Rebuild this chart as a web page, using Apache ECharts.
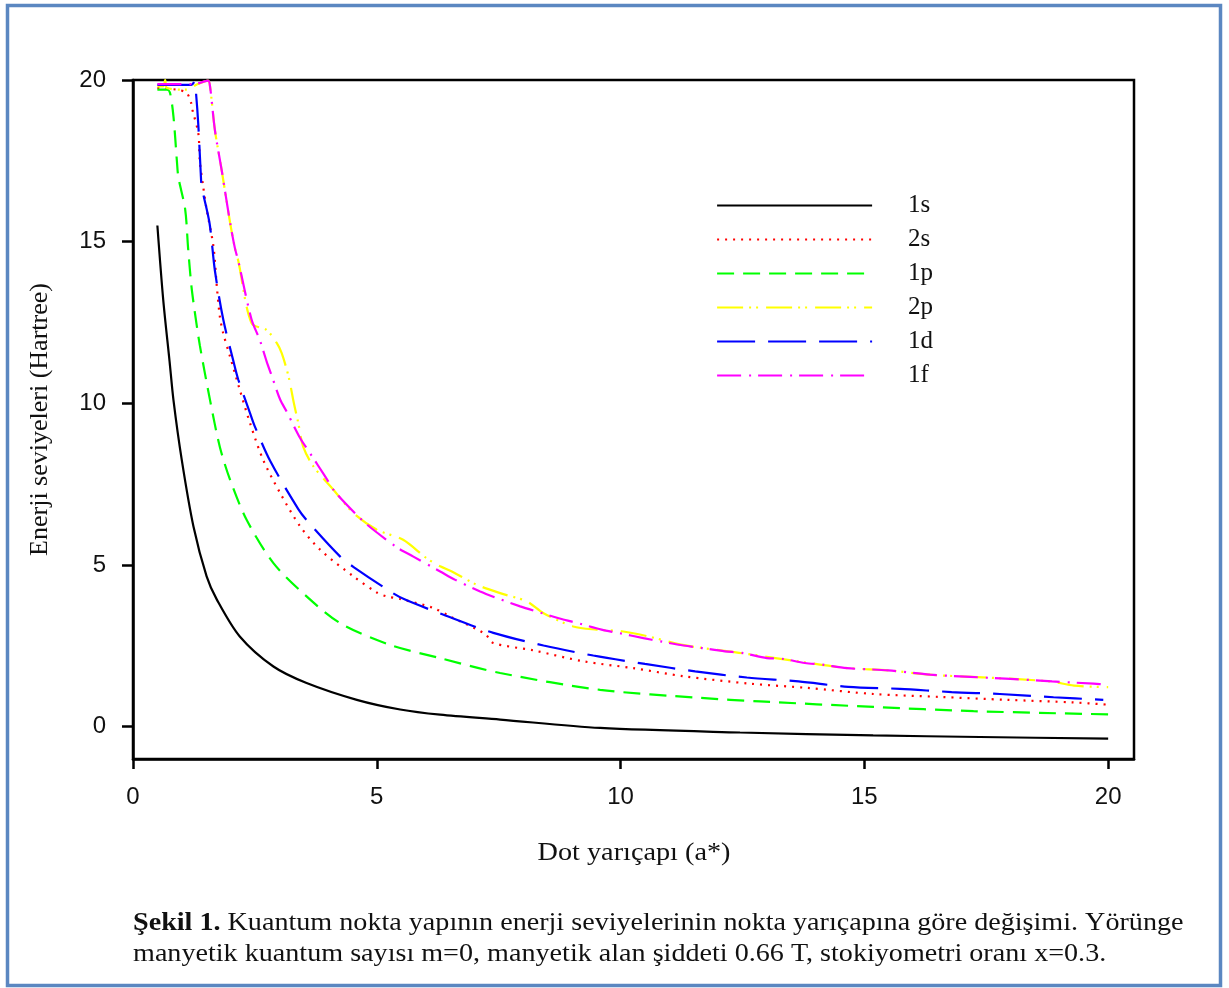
<!DOCTYPE html>
<html>
<head>
<meta charset="utf-8">
<script src="https://cdn.jsdelivr.net/npm/echarts@6/dist/echarts.min.js"></script>
<style>
  html, body { margin: 0; padding: 0; background: #ffffff; }
  #chart { width: 1229px; height: 988px; }
</style>
</head>
<body>
<div id="chart"></div>
<script>
// Energy levels (Hartree) versus dot radius (a*), pairs of [radius, energy]
const level1s = [
  [0.5, 15.5], [0.62, 13.2], [0.75, 11.3], [0.83, 10.1], [1.0, 8.25], [1.24, 6.19],
  [1.51, 4.65], [1.72, 3.93], [2.19, 2.79], [2.88, 1.86], [3.56, 1.35], [4.59, 0.83],
  [5.48, 0.53], [6.3, 0.37], [7.53, 0.22], [9.58, -0.04], [12.45, -0.18],
  [15.18, -0.27], [17.37, -0.32], [20, -0.37]
];
const level2s = [
  [0.5, 19.75], [0.9, 19.7], [1.1, 19.6], [1.19, 19.3], [1.22, 19.07], [1.34, 18.35],
  [1.37, 17.5], [1.44, 16.7], [1.51, 16.0], [1.65, 14.85], [1.72, 13.6], [1.78, 12.7],
  [1.85, 12.17], [1.99, 11.45], [2.19, 10.42], [2.4, 9.39], [2.67, 8.25], [3.02, 7.22],
  [3.43, 6.19], [3.84, 5.47], [4.52, 4.65], [5.0, 4.15], [5.2, 4.03], [5.48, 3.95],
  [6.16, 3.67], [6.5, 3.41], [7.22, 2.87], [7.39, 2.59], [8.21, 2.36], [9.24, 2.02],
  [10.26, 1.81], [11.29, 1.56], [12.66, 1.33], [13.82, 1.2], [15.19, 1.01],
  [16.55, 0.92], [17.92, 0.83], [19.29, 0.75], [20, 0.68]
];
const level1p = [
  [0.5, 19.7], [0.7, 19.7], [0.76, 19.6], [0.83, 18.87], [0.9, 17.5], [0.93, 17.0],
  [1.07, 16.0], [1.13, 14.8], [1.2, 13.6], [1.27, 12.8], [1.37, 11.8], [1.58, 10.1],
  [1.78, 8.66], [1.99, 7.64], [2.33, 6.4], [2.88, 5.06], [3.56, 4.03], [4.25, 3.2],
  [5.27, 2.53], [6.3, 2.12], [7.53, 1.66], [9.58, 1.14], [11.63, 0.89], [12.86, 0.78],
  [15.19, 0.61], [17.24, 0.48], [20, 0.38]
];
const level2p = [
  [0.5, 19.8], [0.62, 19.8], [0.66, 20.0], [0.7, 19.75], [1.1, 19.7], [1.3, 19.85],
  [1.54, 19.98], [1.58, 19.8], [1.68, 18.45], [1.82, 17.2], [1.99, 15.6], [2.09, 14.8],
  [2.16, 14.4], [2.43, 12.48], [2.74, 12.27], [2.95, 11.86], [3.05, 11.55], [3.19, 10.83],
  [3.3, 10.0], [3.39, 9.39], [3.49, 8.66], [3.7, 8.05], [4.11, 7.33], [4.52, 6.61],
  [5.0, 6.09], [5.54, 5.78], [6.02, 5.21], [6.3, 4.96], [6.54, 4.8], [7.05, 4.39],
  [7.53, 4.13], [8.08, 3.87], [8.42, 3.51], [9.03, 3.1], [9.51, 3.0], [10.02, 2.95],
  [10.57, 2.79], [11.3, 2.52], [12.5, 2.27], [13.5, 2.05], [14.6, 1.82], [15.5, 1.74],
  [16.4, 1.6], [17.5, 1.52], [18.8, 1.4], [19.3, 1.27], [20, 1.22]
];
const level1d = [
  [0.5, 19.85], [1.2, 19.85], [1.26, 19.95], [1.29, 19.64], [1.34, 18.6], [1.39, 17.1],
  [1.41, 16.7], [1.57, 15.57], [1.68, 14.1], [1.85, 12.6], [2.06, 11.3], [2.16, 10.73],
  [2.4, 9.7], [2.5, 9.28], [2.82, 8.2], [3.39, 6.73], [3.6, 6.32], [4.25, 5.26],
  [4.54, 4.92], [5.31, 4.15], [5.58, 3.93], [6.37, 3.46], [7.39, 2.9], [8.42, 2.51],
  [9.44, 2.2], [10.5, 1.94], [11.53, 1.71], [12.59, 1.52], [13.65, 1.4], [14.67, 1.23],
  [15.73, 1.17], [16.79, 1.07], [17.78, 1.01], [18.88, 0.91], [19.9, 0.83]
];
const level1f = [
  [0.5, 19.87], [1.2, 19.87], [1.3, 19.88], [1.54, 19.98], [1.58, 19.8], [1.68, 18.45],
  [1.82, 17.2], [1.99, 15.6], [2.09, 14.8], [2.16, 14.4], [2.43, 12.6], [2.6, 11.96],
  [2.74, 11.3], [2.85, 10.83], [3.02, 10.11], [3.15, 9.75], [3.43, 8.92], [3.63, 8.46],
  [3.94, 7.74], [4.14, 7.27], [4.62, 6.5], [4.93, 6.09], [5.44, 5.52], [5.75, 5.26],
  [6.3, 4.8], [6.61, 4.54], [7.12, 4.18], [7.46, 3.98], [7.94, 3.72], [8.28, 3.56],
  [8.79, 3.33], [9.13, 3.2], [9.61, 3.0], [9.95, 2.9], [10.47, 2.74], [10.81, 2.64],
  [11.29, 2.51], [11.67, 2.43], [12.14, 2.33], [12.49, 2.28], [13.0, 2.12], [13.31, 2.1],
  [13.78, 1.97], [14.13, 1.92], [14.64, 1.81], [15.49, 1.74], [16.35, 1.61],
  [17.17, 1.54], [17.99, 1.48], [18.85, 1.4], [19.7, 1.33], [20, 1.3]
];

const xTicks = [0, 5, 10, 15, 20];
const yTicks = [0, 5, 10, 15, 20];

const seriesNames = ['1s', '2s', '1p', '2p', '1d', '1f'];
const seriesData = [level1s, level2s, level1p, level2p, level1d, level1f];
const seriesColors = ['#000000', '#ff0000', '#00ff00', '#ffff00', '#0000ff', '#ff00ff'];
const seriesDash = ['solid', [2, 6], [17, 9], [26, 6, 2, 5, 2, 8], [38, 13], [24, 8, 2, 7]];

const serif = '"Liberation Serif", "Times New Roman", serif';
const sans = '"Liberation Sans", Arial, sans-serif';

const chart = echarts.init(document.getElementById('chart'), null, { renderer: 'canvas' });

chart.setOption({
  backgroundColor: '#ffffff',
  animation: false,
  grid: {
    left: 133, top: 80, right: 95, bottom: 229,
    show: true, borderColor: '#000000', borderWidth: 2.5,
    containLabel: false
  },
  legend: {
    orient: 'vertical',
    left: 716,
    top: 193,
    padding: 0,
    itemWidth: 155,
    itemHeight: 25,
    itemGap: 9,
    data: seriesNames,
    itemStyle: { opacity: 0 },
    lineStyle: { width: 2.2 },
    textStyle: {
      fontFamily: serif, fontSize: 25, color: '#111111',
      padding: [0, 0, 0, 31]
    }
  },
  xAxis: {
    type: 'value',
    min: 0,
    max: 20.53,
    axisLine: { show: true, onZero: false, lineStyle: { color: '#000000', width: 2.5 } },
    axisTick: { show: true, inside: false, length: 10, customValues: xTicks,
      lineStyle: { color: '#000000', width: 2.5 } },
    axisLabel: { customValues: xTicks, margin: 26, fontFamily: sans, fontSize: 24, color: '#111111' },
    splitLine: { show: false }
  },
  yAxis: {
    type: 'value',
    min: -1,
    max: 20,
    name: 'Enerji seviyeleri (Hartree)',
    nameLocation: 'middle',
    nameGap: 80,
    nameTextStyle: { fontFamily: serif, fontSize: 26, color: '#111111' },
    axisLine: { show: true, onZero: false, lineStyle: { color: '#000000', width: 2.5 } },
    axisTick: { show: true, inside: false, length: 11, customValues: yTicks,
      lineStyle: { color: '#000000', width: 2.5 } },
    axisLabel: { customValues: yTicks, margin: 27, fontFamily: sans, fontSize: 24, color: '#111111' },
    splitLine: { show: false }
  },
  series: seriesNames.map((name, i) => ({
    name: name,
    type: 'line',
    data: seriesData[i],
    showSymbol: false,
    symbol: 'none',
    smooth: 0.3,
    clip: true,
    lineStyle: { color: seriesColors[i], width: 2.2, type: seriesDash[i] },
    itemStyle: { color: seriesColors[i] }
  })),
  graphic: [
    {
      type: 'rect',
      silent: true,
      shape: { x: 7.5, y: 5.5, width: 1213, height: 980 },
      style: { fill: null, stroke: '#5b87c1', lineWidth: 3.5 }
    },
    {
      // x-axis title
      type: 'text',
      silent: true,
      x: 634,
      y: 853,
      scaleX: 1.13,
      style: {
        text: 'Dot yarıçapı (a*)',
        fontFamily: serif,
        fontSize: 25,
        fill: '#111111',
        align: 'center',
        verticalAlign: 'middle'
      }
    },
    {
      // figure caption
      type: 'text',
      silent: true,
      x: 133,
      y: 908,
      scaleX: 1.125,
      style: {
        text: '{b|Şekil 1.} Kuantum nokta yapının enerji seviyelerinin nokta yarıçapına göre değişimi. Yörünge\nmanyetik kuantum sayısı m=0, manyetik alan şiddeti 0.66 T, stokiyometri oranı x=0.3.',
        fontFamily: serif,
        fontSize: 25,
        lineHeight: 31,
        fill: '#111111',
        verticalAlign: 'top',
        rich: {
          b: { fontFamily: serif, fontSize: 25, fontWeight: 'bold', fill: '#111111', lineHeight: 31 }
        }
      }
    }
  ]
});
</script>
</body>
</html>
